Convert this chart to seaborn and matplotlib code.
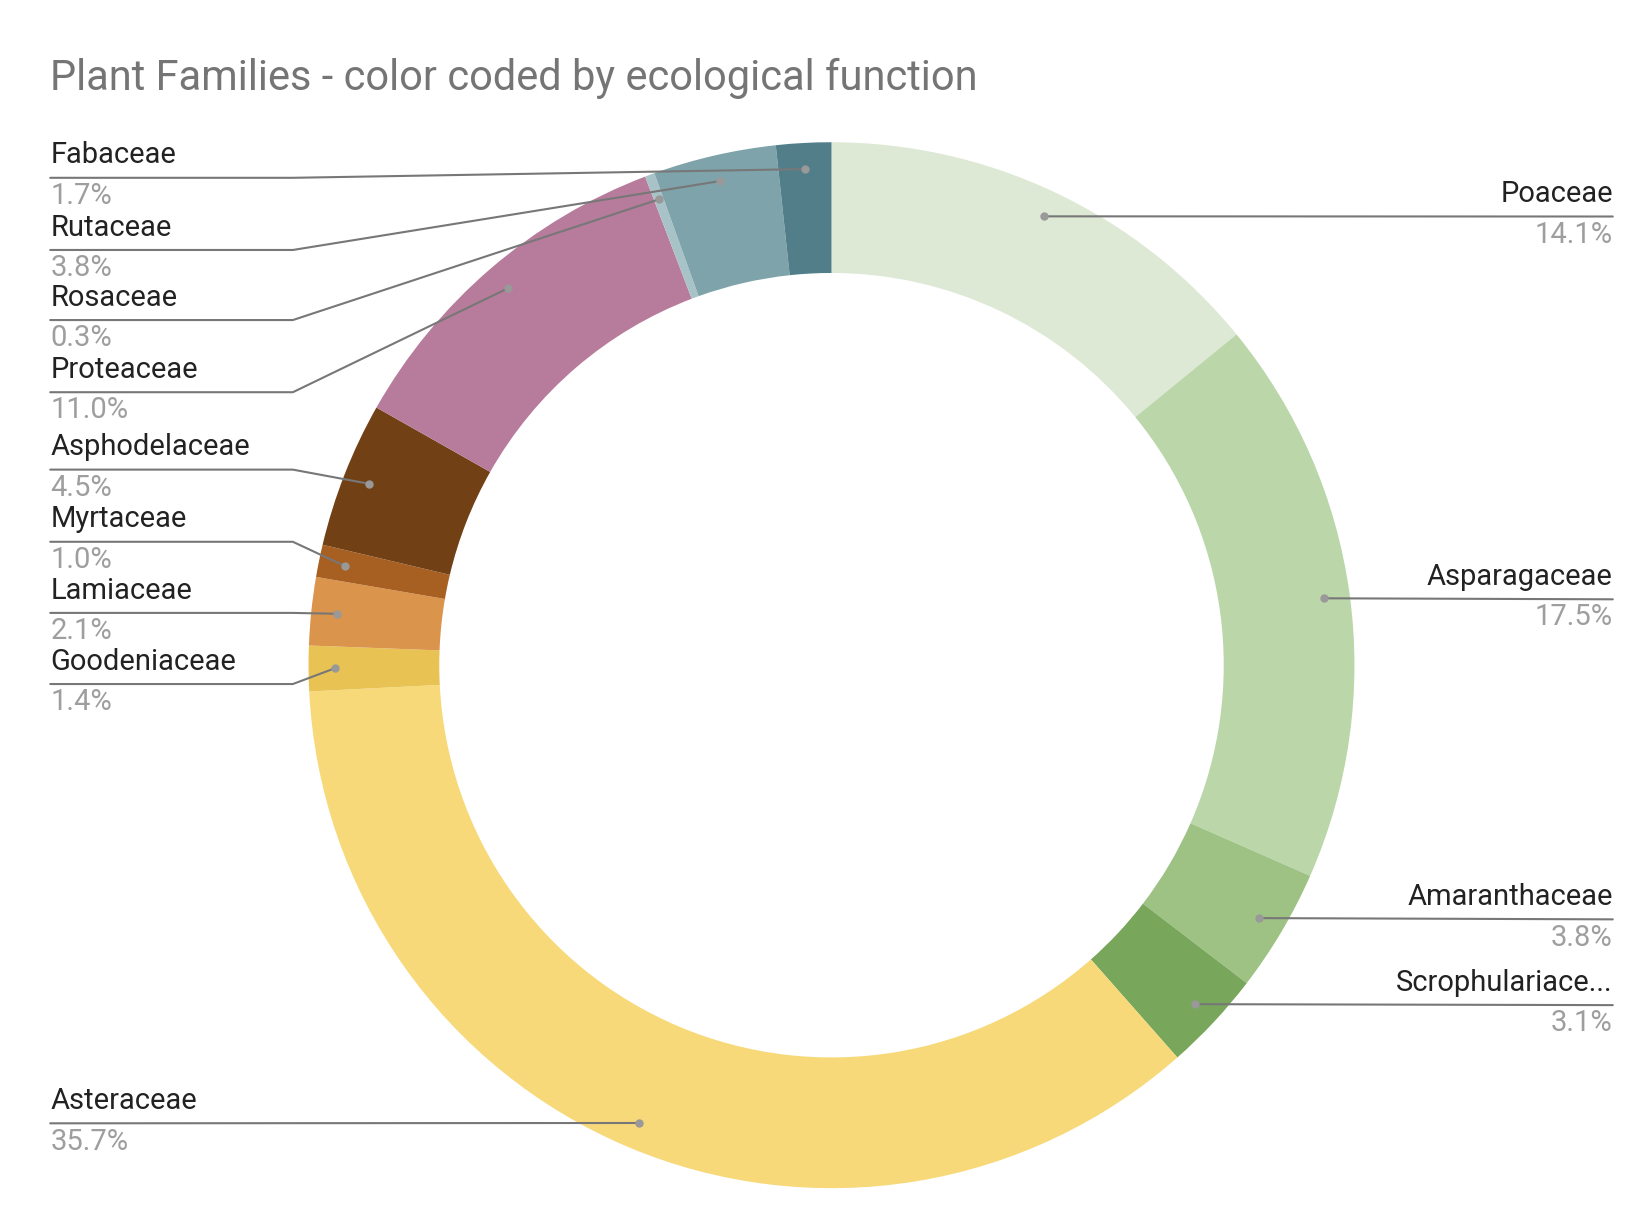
import numpy as np
import matplotlib
matplotlib.use("Agg")
import matplotlib.pyplot as plt
import seaborn as sns

# ── data (clockwise from 12 o'clock) ───────────────────────────────────────
families = ["Poaceae", "Asparagaceae", "Amaranthaceae", "Scrophulariace...",
            "Asteraceae", "Goodeniaceae", "Lamiaceae", "Myrtaceae",
            "Asphodelaceae", "Proteaceae", "Rosaceae", "Rutaceae", "Fabaceae"]
shares = [14.1, 17.5, 3.8, 3.1, 35.7, 1.4, 2.1, 1.0, 4.5, 11.0, 0.3, 3.8, 1.7]
colors = ["#dde9d5", "#bbd7aa", "#9dc283", "#78a65a", "#f7d979", "#e8c353",
          "#db944c", "#a85f22", "#714115", "#b77c9c", "#a8c3c8", "#7ea3aa",
          "#527e8a"]
# label rows (reference pixel y of underline); side of chart
label_y = [204, 570, 876, 958, 1071, 651, 583, 515, 446, 372, 303, 236, 167]
label_side = ["R", "R", "R", "R", "L", "L", "L", "L", "L", "L", "L", "L", "L"]

sns.set_theme(style="white")
plt.rcParams["font.family"] = ["Roboto", "DejaVu Sans"]

W, H = 1568, 1170
fig = plt.figure(figsize=(16.4, 12.3), dpi=100)
ax = fig.add_axes([0, 0, 1, 1])
ax.set_xlim(0, W)
ax.set_ylim(0, H)
ax.axis("off")

cx, cy, R = 795, H - 633, 500
ax.pie(shares, colors=colors, startangle=90, counterclock=False,
       center=(cx, cy), radius=R, frame=True,
       wedgeprops=dict(width=125, linewidth=0))
ax.set_xlim(0, W)
ax.set_ylim(0, H)
ax.axis("off")

line_c = "#777777"
cum = 0.0
for name, val, ly, side in zip(families, shares, label_y, label_side):
    mid = 90 - (cum + val / 2) * 3.6
    cum += val
    px = cx + 475 * np.cos(np.radians(mid))
    py = cy + 475 * np.sin(np.radians(mid))
    y = H - ly
    if side == "R":
        ax.plot([px, 1542], [py, y], color=line_c, lw=1.5)
        ax.plot([px], [py], "o", color="#999999", ms=5)
        ax.text(1542, y + 8, name, ha="right", va="bottom", fontsize=21, color="#222222")
        ax.text(1542, y - 4, f"{val:.1f}%", ha="right", va="top", fontsize=21, color="#9e9e9e")
    else:
        xs = [48, 280, px] if name != "Asteraceae" else [48, px]
        ys = [y, y, py] if name != "Asteraceae" else [y, py]
        ax.plot(xs, ys, color=line_c, lw=1.5)
        ax.plot([px], [py], "o", color="#999999", ms=5)
        ax.text(48, y + 8, name, ha="left", va="bottom", fontsize=21, color="#222222")
        ax.text(48, y - 4, f"{val:.1f}%", ha="left", va="top", fontsize=21, color="#9e9e9e")

ax.text(48, H - 72, "Plant Families - color coded by ecological function",
        ha="left", va="center", fontsize=30, color="#757575")

fig.savefig("out.png", dpi=100)
